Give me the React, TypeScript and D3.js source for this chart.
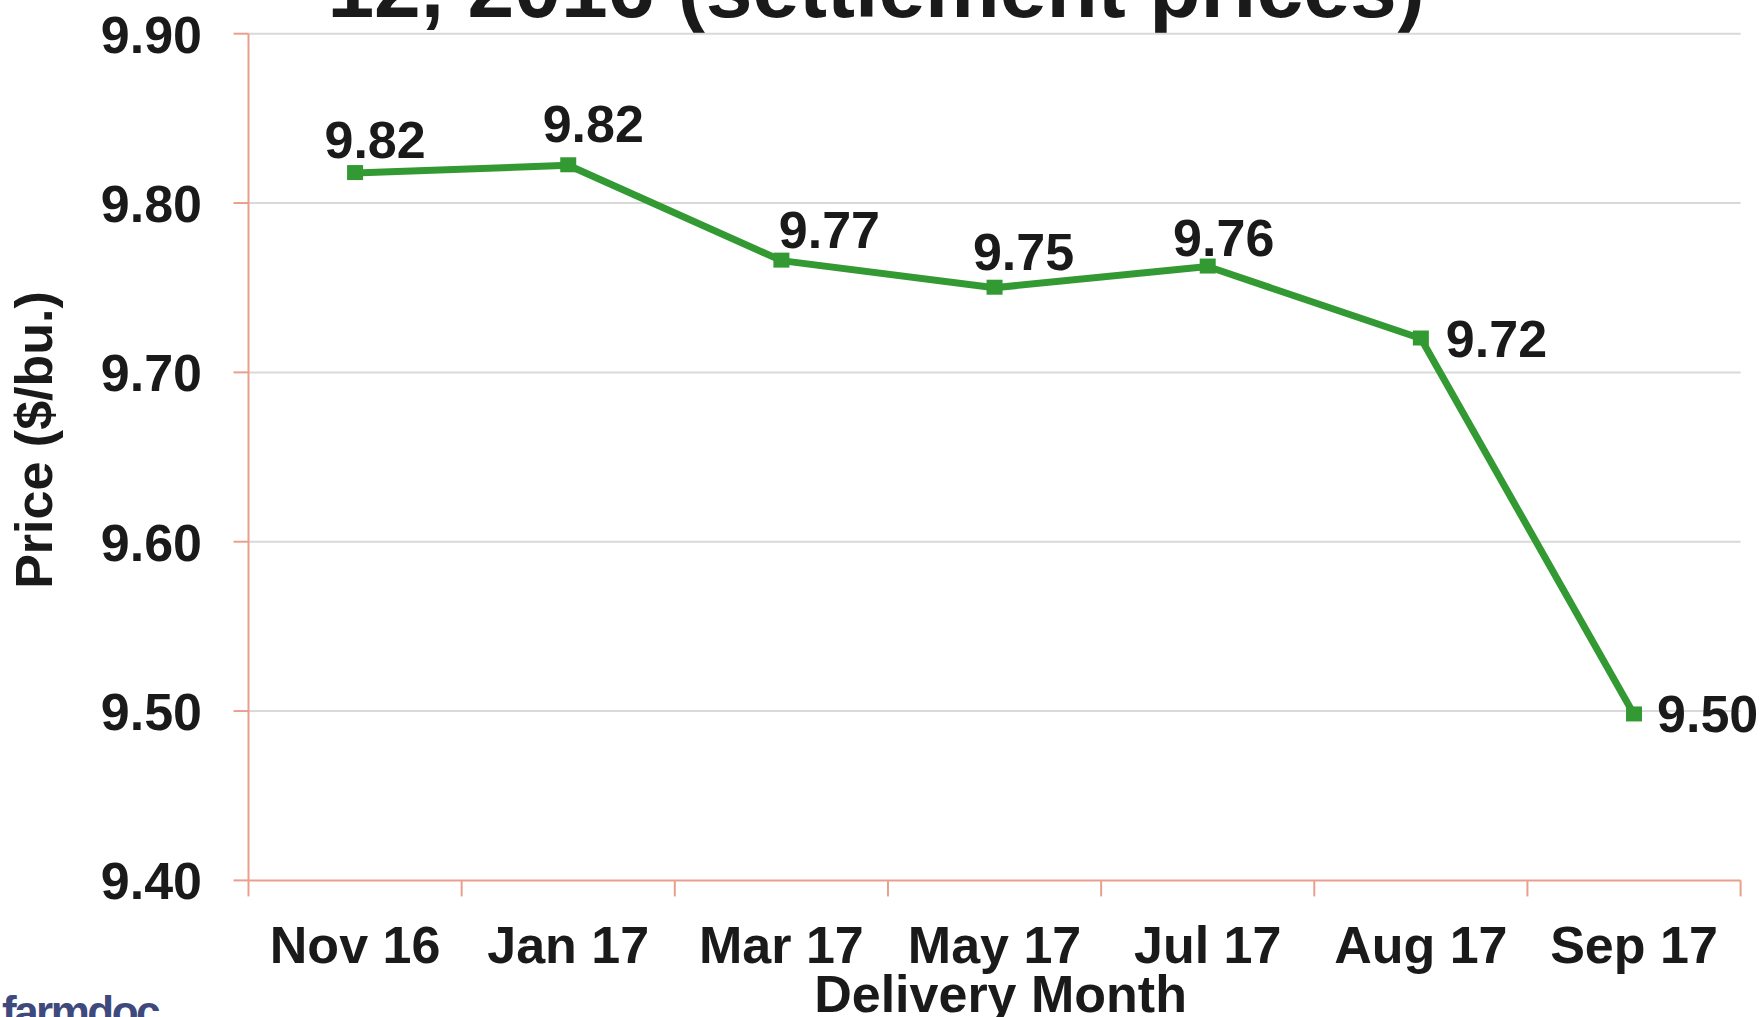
import React from "react";
import * as d3 from "d3";

const months = ["Nov 16", "Jan 17", "Mar 17", "May 17", "Jul 17", "Aug 17", "Sep 17"];
const prices = [9.8177, 9.8223, 9.766, 9.75, 9.7625, 9.72, 9.498];
const yTicks = [9.4, 9.5, 9.6, 9.7, 9.8, 9.9];
const titleLine = "12, 2016 (settlement prices)";
const yTitle = "Price ($/bu.)";
const xTitle = "Delivery Month";
// label placement nudges relative to each point (layout, not data)
const labelNudge: [number, number, string][] = [
  [20, -15, "middle"],
  [25, -23, "middle"],
  [48, -13, "middle"],
  [29, -18, "middle"],
  [16, -11, "middle"],
  [25, 18, "start"],
  [23, 18, "start"],
];

const W = 1763;
const H = 1017;
const left = 248.5;
const right = 1740.6;
const top = 33.7;
const bottom = 880.4;
const FONT = "'Liberation Sans', Arial, Helvetica, sans-serif";
const axisColor = "#e8a08c";
const green = "#339933";

export default function App() {
  const x = d3.scaleBand<string>().domain(months).range([left, right]).padding(0);
  const y = d3.scaleLinear().domain([9.4, 9.9]).range([bottom, top]);
  const cx = (m: string) => (x(m) as number) + x.bandwidth() / 2;
  const pts: [number, number][] = months.map((m, i) => [cx(m), y(prices[i])]);
  const line = d3.line()(pts) as string;
  const xTickPos = [...months.map((m) => x(m) as number), right];

  return (
    <svg width={W} height={H} style={{ position: "absolute", left: 0, top: 0, background: "#fff" }} fontFamily={FONT} fontWeight="bold">
      <rect x={0} y={0} width={W} height={H} fill="#fff" />
      <text x={876} y={17} fontSize={84} textAnchor="middle" fill="#1a1a1a">{titleLine}</text>
      {yTicks.filter((t) => t > 9.4).map((t) => (
        <line key={"g" + t} x1={left} x2={right} y1={y(t)} y2={y(t)} stroke="#d9d9d9" strokeWidth={2} />
      ))}
      <line x1={left} x2={left} y1={top} y2={bottom} stroke={axisColor} strokeWidth={2} />
      <line x1={left} x2={right} y1={bottom} y2={bottom} stroke={axisColor} strokeWidth={2} />
      {yTicks.map((t) => (
        <g key={"t" + t}>
          <line x1={left - 15} x2={left} y1={y(t)} y2={y(t)} stroke={axisColor} strokeWidth={2} />
          <text x={202} y={y(t) + 19} fontSize={52} textAnchor="end" fill="#1a1a1a">{t.toFixed(2)}</text>
        </g>
      ))}
      {xTickPos.map((p, i) => (
        <line key={"xt" + i} x1={p} x2={p} y1={bottom} y2={bottom + 16} stroke={axisColor} strokeWidth={2} />
      ))}
      {months.map((m) => (
        <text key={m} x={cx(m)} y={963} fontSize={52} textAnchor="middle" fill="#1a1a1a">{m}</text>
      ))}
      <text x={(left + right) / 2 + 6} y={1012} fontSize={52} textAnchor="middle" fill="#1a1a1a">{xTitle}</text>
      <text transform={`translate(52, ${440}) rotate(-90)`} fontSize={52} textAnchor="middle" fill="#1a1a1a">{yTitle}</text>
      <path d={line} fill="none" stroke={green} strokeWidth={7} strokeLinejoin="round" />
      {pts.map(([px, py], i) => (
        <rect key={"m" + i} x={px - 8} y={py - 8} width={16} height={15} fill={green} />
      ))}
      {pts.map(([px, py], i) => (
        <text key={"l" + i} x={px + labelNudge[i][0]} y={py + labelNudge[i][1]} fontSize={52} textAnchor={labelNudge[i][2] as any} fill="#1a1a1a">
          {prices[i].toFixed(2)}
        </text>
      ))}
      <text x={2} y={1027} fontSize={44} letterSpacing={-2.5} fill="#3e4a7e">farmdoc</text>
    </svg>
  );
}
